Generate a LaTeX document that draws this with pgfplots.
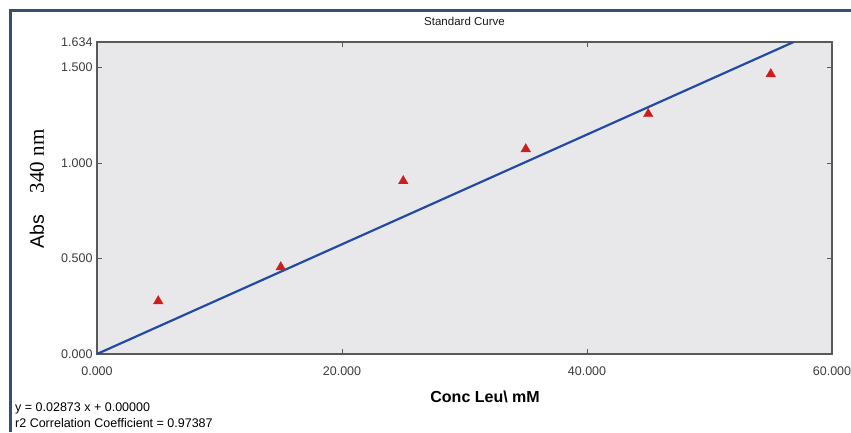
\documentclass[border=0pt]{standalone}
\usepackage{fontspec}
\setmainfont{Liberation Sans}
\newfontfamily\myserif{Liberation Serif}
\newfontfamily\mysans{Liberation Sans}
\usepackage{pgfplots}
\pgfplotsset{compat=1.18}
\definecolor{framecol}{RGB}{52,80,112}
\definecolor{axbg}{RGB}{232,232,234}
\definecolor{fitblue}{RGB}{35,75,165}
\definecolor{ptred}{RGB}{205,30,30}
\definecolor{tickgray}{RGB}{60,60,60}
\begin{document}
\begin{tikzpicture}
\useasboundingbox (0,0) rectangle (851pt,432pt);
\fill[white] (0,0) rectangle (851pt,432pt);
\draw[framecol, line width=3pt] (10pt,0) -- (10pt,421.5pt) -- (851pt,421.5pt);
\begin{axis}[
  at={(97pt,78pt)}, anchor=south west,
  width=735pt, height=312pt, scale only axis,
  xmin=0, xmax=60, ymin=0, ymax=1.634,
  xtick={0,20,40,60}, ytick={0,0.5,1,1.5,1.634},
  axis background/.style={fill=axbg},
  axis line style={draw=black!65, line width=1.2pt},
  major tick length=5pt,
  tick style={black!65, line width=1pt},
  /pgf/number format/assume math mode=true,
  /pgf/number format/.cd, fixed, fixed zerofill, precision=3, /pgfplots/.cd,
  ticklabel style={font=\fontsize{12.5}{13}\selectfont, text=tickgray},
  xticklabel style={yshift=-9pt},
  yticklabel style={xshift=-1pt},
  title={Standard Curve},
  title style={at={(axis description cs:0.5,1)}, anchor=center, yshift=15pt, font=\fontsize{11.5}{13}\selectfont, text=black!90},
  xlabel={\textbf{Conc Leu\textbackslash{} mM}},
  xlabel style={at={(axis description cs:0.528,0)}, anchor=center, yshift=-43pt, font=\fontsize{16}{18}\selectfont},
  ylabel={{\mysans Abs}\hspace{1.1em}{\myserif\fontsize{21}{23}\selectfont 340 nm}},
  ylabel style={at={(axis description cs:-0.0816,0.529)}, anchor=center, font=\fontsize{19.5}{21}\selectfont},
]
\addplot[fitblue, line width=2.2pt] coordinates {(0,0) (56.87,1.634)};
\addplot[only marks, mark=triangle*, mark size=5.5pt, ptred, mark options={fill=ptred, draw=ptred}] coordinates {
  (5,0.277) (15,0.455) (25,0.906) (35,1.073) (45,1.257) (55,1.466)
};
\end{axis}
\node[anchor=west, inner sep=0pt, font=\fontsize{12.5}{14}\selectfont] at (15pt,24pt) {y = 0.02873 x + 0.00000};
\node[anchor=west, inner sep=0pt, font=\fontsize{12.5}{14}\selectfont] at (15pt,9pt) {r2 Correlation Coefficient = 0.97387};
\end{tikzpicture}
\end{document}
